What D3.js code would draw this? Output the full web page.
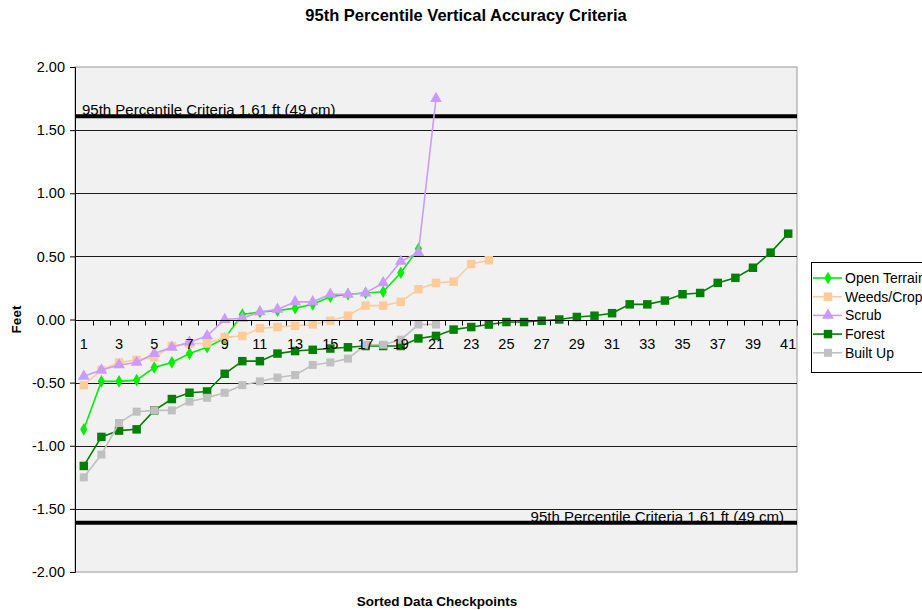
<!DOCTYPE html>
<html>
<head>
<meta charset="utf-8">
<script src="https://cdn.jsdelivr.net/npm/d3@7"></script>
<style>
  html, body { margin: 0; padding: 0; background: #ffffff; }
  svg { display: block; font-family: "Liberation Sans", Arial, sans-serif; }
</style>
</head>
<body>
<svg id="chart" width="922" height="610"></svg>
<script>
const categories = d3.range(1, 42).map(String);
const tickLabels = d3.range(1, 42, 2).map(String);
const yTicks = [2.0, 1.5, 1.0, 0.5, 0.0, -0.5, -1.0, -1.5, -2.0];
const criteria = 1.61;
const criteriaLabel = "95th Percentile Criteria 1.61 ft (49 cm)";

const openTerrain = [-0.87,-0.49,-0.49,-0.48,-0.38,-0.34,-0.27,-0.22,-0.15,0.04,0.06,0.07,0.09,0.12,0.18,0.20,0.21,0.22,0.37,0.56];
const weedsCrops = [-0.52,-0.40,-0.34,-0.32,-0.30,-0.21,-0.19,-0.19,-0.14,-0.13,-0.07,-0.06,-0.05,-0.04,-0.01,0.03,0.11,0.11,0.14,0.24,0.29,0.30,0.44,0.47];
const scrub = [-0.45,-0.40,-0.36,-0.34,-0.27,-0.22,-0.18,-0.13,0.00,0.01,0.06,0.08,0.14,0.14,0.20,0.20,0.21,0.29,0.46,0.53,1.75];
const forest = [-1.16,-0.93,-0.88,-0.87,-0.72,-0.63,-0.58,-0.57,-0.43,-0.33,-0.33,-0.27,-0.25,-0.24,-0.23,-0.22,-0.21,-0.21,-0.21,-0.15,-0.13,-0.08,-0.06,-0.04,-0.02,-0.02,-0.01,0.00,0.02,0.03,0.05,0.12,0.12,0.15,0.20,0.21,0.29,0.33,0.41,0.53,0.68];
const builtUp = [-1.25,-1.07,-0.82,-0.73,-0.72,-0.72,-0.65,-0.62,-0.58,-0.52,-0.49,-0.46,-0.44,-0.36,-0.34,-0.31,-0.20,-0.20,-0.16,-0.04,-0.04];

const seriesNames = ["Open Terrain", "Weeds/Crops", "Scrub", "Forest", "Built Up"];
const seriesValues = [openTerrain, weedsCrops, scrub, forest, builtUp];

const styles = {
  "Open Terrain": { color: "#00ee00", symbol: d3.symbolDiamond, size: 46 },
  "Weeds/Crops": { color: "#ffcc99", symbol: d3.symbolSquare, size: 72 },
  "Scrub":       { color: "#cc99ff", symbol: d3.symbolTriangle, size: 60 },
  "Forest":      { color: "#008000", symbol: d3.symbolSquare, size: 72 },
  "Built Up":    { color: "#c0c0c0", symbol: d3.symbolSquare, size: 64 }
};

const svg = d3.select("#chart");
const plot = { left: 75, right: 797, top: 67, bottom: 572 };

const x = d3.scaleBand().domain(categories).range([plot.left, plot.right]);
const y = d3.scaleLinear().domain([-2, 2]).range([plot.bottom, plot.top]);
const cx = c => x(c) + x.bandwidth() / 2;

// Title
svg.append("text")
  .attr("x", 466).attr("y", 21)
  .attr("text-anchor", "middle")
  .attr("font-size", "16.5px").attr("font-weight", "bold")
  .text("95th Percentile Vertical Accuracy Criteria");

// Plot area background
svg.append("rect")
  .attr("x", plot.left).attr("y", plot.top)
  .attr("width", plot.right - plot.left).attr("height", plot.bottom - plot.top)
  .attr("fill", "#f1f1f1").attr("stroke", "#9a9a9a").attr("stroke-width", 1);

// Gridlines
svg.append("g").selectAll("line")
  .data(yTicks.filter(v => v !== 2 && v !== -2))
  .join("line")
  .attr("x1", plot.left).attr("x2", plot.right)
  .attr("y1", d => Math.round(y(d)) + 0.5).attr("y2", d => Math.round(y(d)) + 0.5)
  .attr("stroke", "#1a1a1a").attr("stroke-width", 1);

// Criteria lines
[criteria, -criteria].forEach(v => {
  svg.append("line")
    .attr("x1", plot.left).attr("x2", plot.right)
    .attr("y1", y(v)).attr("y2", y(v))
    .attr("stroke", "#000").attr("stroke-width", 4);
});
svg.append("text")
  .attr("x", 82).attr("y", y(criteria) - 1)
  .attr("font-size", "15px").attr("fill", "#000")
  .text(criteriaLabel);
svg.append("text")
  .attr("x", 784).attr("y", y(-criteria) - 1)
  .attr("text-anchor", "end")
  .attr("font-size", "15px").attr("fill", "#000")
  .text(criteriaLabel);

// Y axis
const yAxis = d3.axisLeft(y).tickValues(yTicks).tickFormat(d3.format(".2f")).tickSize(5).tickPadding(5);
const gy = svg.append("g").attr("transform", `translate(${plot.left},0)`).call(yAxis);
gy.select(".domain").attr("stroke", "#000");
gy.selectAll(".tick line").attr("stroke", "#000");
gy.selectAll(".tick text").attr("font-size", "14.5px").attr("fill", "#000")
  .attr("font-family", "'Liberation Sans', Arial, sans-serif")
  .text(d => d3.format(".2f")(d).replace("−", "-"));

// Series
const line = d3.line().x((d, i) => cx(categories[i])).y(d => y(d));
seriesNames.forEach((name, si) => {
  const vals = seriesValues[si];
  const st = styles[name];
  const g = svg.append("g");
  g.append("path").datum(vals)
    .attr("d", line)
    .attr("fill", "none").attr("stroke", st.color).attr("stroke-width", 1.6);
  g.selectAll("path.m").data(vals).join("path").attr("class", "m")
    .attr("transform", (d, i) => `translate(${cx(categories[i])},${y(d)})`)
    .attr("d", d3.symbol().type(st.symbol).size(st.size))
    .attr("fill", st.color);
});

// X axis at zero
const xAxisY = Math.round(y(0)) + 0.5;
const gx = svg.append("g");
gx.append("line").attr("x1", plot.left).attr("x2", plot.right)
  .attr("y1", xAxisY).attr("y2", xAxisY).attr("stroke", "#000");
gx.selectAll("line.t").data(d3.range(0, categories.length + 1)).join("line").attr("class", "t")
  .attr("x1", i => Math.round(plot.left + i * x.step()) + 0.5)
  .attr("x2", i => Math.round(plot.left + i * x.step()) + 0.5)
  .attr("y1", xAxisY).attr("y2", xAxisY + 5).attr("stroke", "#000");
gx.selectAll("text").data(tickLabels).join("text")
  .attr("x", d => cx(d)).attr("y", xAxisY + 28)
  .attr("text-anchor", "middle").attr("font-size", "14.5px").attr("fill", "#000")
  .text(d => d);

// Axis titles
svg.append("text")
  .attr("transform", `translate(21,${y(0)}) rotate(-90)`)
  .attr("text-anchor", "middle").attr("font-size", "13.5px").attr("font-weight", "bold")
  .text("Feet");
svg.append("text")
  .attr("x", 437).attr("y", 606)
  .attr("text-anchor", "middle").attr("font-size", "13.5px").attr("font-weight", "bold")
  .text("Sorted Data Checkpoints");

// Legend
const legend = svg.append("g");
legend.append("rect").attr("x", 811.5).attr("y", 262.5).attr("width", 130).attr("height", 110)
  .attr("fill", "#fff").attr("stroke", "#000").attr("stroke-width", 1);
seriesNames.forEach((name, i) => {
  const st = styles[name];
  const ly = 278 + i * 18.7;
  legend.append("line").attr("x1", 813).attr("x2", 842).attr("y1", ly).attr("y2", ly)
    .attr("stroke", st.color).attr("stroke-width", 1.6);
  legend.append("path").attr("transform", `translate(828,${ly})`)
    .attr("d", d3.symbol().type(st.symbol).size(st.size)).attr("fill", st.color);
  legend.append("text").attr("x", 845).attr("y", ly + 5)
    .attr("font-size", "14px").attr("fill", "#000").text(name);
});
</script>
</body>
</html>
